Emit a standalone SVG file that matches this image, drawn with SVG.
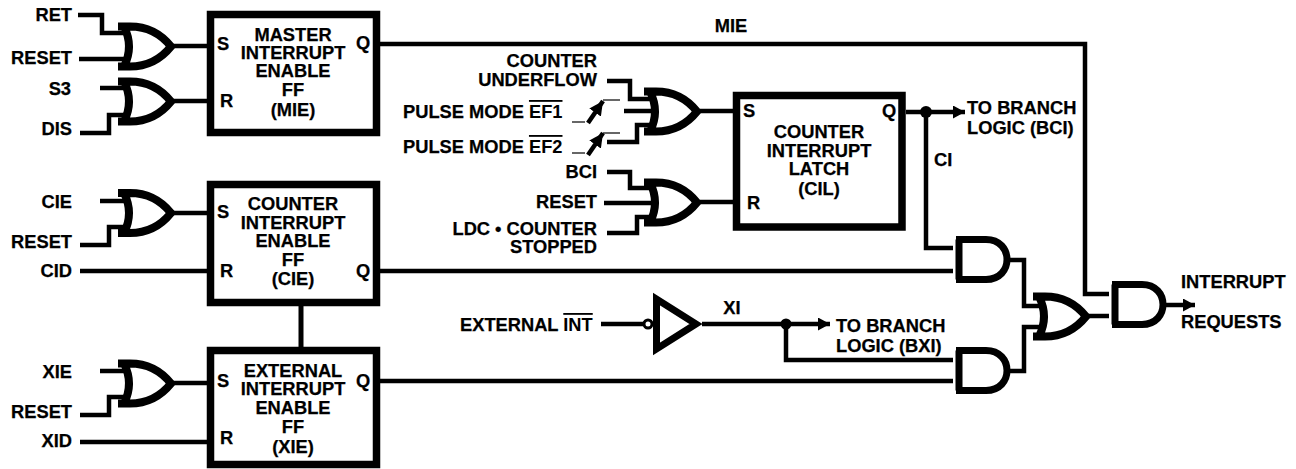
<svg xmlns="http://www.w3.org/2000/svg" width="1296" height="469" viewBox="0 0 1296 469">
<style>
text{font-family:"Liberation Sans",Arial,sans-serif;font-weight:bold;font-size:18.300px;fill:#000;stroke:#000;stroke-width:.25}
.e{text-anchor:end}.m{text-anchor:middle}
.box{fill:#fff;stroke:#000;stroke-width:7.500}
.gate{fill:none;stroke:#000;stroke-width:7}
.org{fill:none;stroke:#000;stroke-width:8}
.w{fill:none;stroke:#000;stroke-width:4.500}
.t{fill:none;stroke:#000;stroke-width:1.200}
.ol{text-decoration:overline;stroke-width:0}
</style>
<defs>
<g id="or"><path class="org" d="M0,.5H12C30,.5 43,8 53,20.500C43,33 30,40.500 12,40.500H0M6,.5Q16,20.500 6,40.500"/></g>
<g id="and"><path class="gate" d="M0,0H30C44,0 51,10 51,20C51,30 44,40 30,40H0M3,0V40"/></g>
<marker id="ah" markerUnits="userSpaceOnUse" markerWidth="12" markerHeight="13" refX="12" refY="6.500" orient="auto"><path d="M0,0L12,6.500L0,13Z"/></marker>
<marker id="sa" markerUnits="userSpaceOnUse" markerWidth="14" markerHeight="14" refX="14" refY="7" orient="auto"><path d="M0,0L14,7L0,14Z"/></marker>
</defs>
<g id="connectors">
<path class="w" d="M78,15H102V33H125"/><path class="w" d="M79,59H127"/><path class="w" d="M100,88H127"/><path class="w" d="M80,133H109V115H127"/>
<path class="w" d="M172,46H207"/><path class="w" d="M172,101H207"/>
<path class="w" d="M100,201H127"/><path class="w" d="M80,245H109V227H127"/><path class="w" d="M80,271H207"/><path class="w" d="M172,213H207"/>
<path class="w" d="M100,371H127"/><path class="w" d="M80,415H109V397H127"/><path class="w" d="M80,442H207"/><path class="w" d="M172,383H207"/>
<path d="M301,305V347" fill="none" stroke="#000" stroke-width="5"/>
<path class="w" d="M380,44H1085V294H1109"/><path class="w" d="M380,271H953"/><path class="w" d="M380,381H953"/>
<path class="w" d="M607,81H630V99H653"/><path class="t" d="M572,122H585"/><path class="w" d="M588,123L603,101" marker-end="url(#sa)"/><path class="t" d="M603,100H620"/><path class="w" d="M624,111H654"/>
<path class="t" d="M572,153H585"/><path class="w" d="M588,155L603,133" marker-end="url(#sa)"/><path class="t" d="M603,133H620"/><path class="w" d="M607,142H637V125H653"/>
<path class="w" d="M607,172H630V188H653"/><path class="w" d="M604,203H654"/><path class="w" d="M607,233H637V217H653"/>
<path class="w" d="M700,111H733"/><path class="w" d="M700,202H733"/>
<path class="w" d="M906,112H965" marker-end="url(#ah)"/><circle cx="926" cy="112" r="6"/>
<path class="w" d="M926,112V248H953"/>
<path class="w" d="M1010,260H1024V306H1042"/><path class="w" d="M1010,371H1024V327H1042"/><path class="w" d="M1088,316H1109"/>
<path class="w" d="M1166,305H1195" marker-end="url(#ah)"/>
<path class="w" d="M601,324H644"/>
<path class="w" d="M702,324H830" marker-end="url(#ah)"/><circle cx="786" cy="324" r="5.500"/><path class="w" d="M786,324V360H953"/>
<text class="m" x="731" y="32">MIE</text><text x="934" y="166">CI</text><text class="m" x="732" y="314">XI</text>
</g>
<g id="in-mie"><text class="e" x="72" y="21">RET</text><text class="e" x="72" y="64">RESET</text><text class="e" x="71" y="95">S3</text><text class="e" x="72" y="135">DIS</text></g>
<g id="in-cie"><text class="e" x="72" y="208">CIE</text><text class="e" x="72" y="248">RESET</text><text class="e" x="72" y="277">CID</text></g>
<g id="in-xie"><text class="e" x="72" y="378">XIE</text><text class="e" x="72" y="418">RESET</text><text class="e" x="72" y="447">XID</text></g>
<g id="or-ret"><use href="#or" x="118" y="26"/></g>
<g id="or-s3"><use href="#or" x="118" y="81"/></g>
<g id="or-cie"><use href="#or" x="118" y="192.500"/></g>
<g id="or-xie"><use href="#or" x="118" y="363"/></g>
<g id="or-pulse"><use href="#or" x="644" y="91"/></g>
<g id="or-bci"><use href="#or" x="644" y="182"/></g>
<g id="or-out"><use href="#or" x="1033" y="296"/></g>
<g id="and-ci"><use href="#and" x="956" y="239.500"/></g>
<g id="and-xi"><use href="#and" x="956" y="350.500"/></g>
<g id="and-out"><use href="#and" x="1112" y="284.500"/></g>
<g id="ff-mie"><rect class="box" x="210.500" y="14.500" width="166" height="118"/>
<text x="217" y="50">S</text><text x="220" y="107">R</text><text x="356" y="49">Q</text>
<text class="m" x="293" y="41">MASTER</text><text class="m" x="293" y="59">INTERRUPT</text><text class="m" x="293" y="77">ENABLE</text><text class="m" x="293" y="96">FF</text><text class="m" x="293" y="116">(MIE)</text></g>
<g id="ff-cie"><rect class="box" x="210.500" y="184.500" width="166" height="118"/>
<text x="217" y="218">S</text><text x="220" y="277">R</text><text x="356" y="277">Q</text>
<text class="m" x="293" y="210">COUNTER</text><text class="m" x="293" y="229">INTERRUPT</text><text class="m" x="293" y="247">ENABLE</text><text class="m" x="293" y="266">FF</text><text class="m" x="293" y="285">(CIE)</text></g>
<g id="ff-xie"><rect class="box" x="210.500" y="350.500" width="166" height="114"/>
<text x="217" y="387">S</text><text x="220" y="444">R</text><text x="356" y="387">Q</text>
<text class="m" x="293" y="377">EXTERNAL</text><text class="m" x="293" y="395">INTERRUPT</text><text class="m" x="293" y="414">ENABLE</text><text class="m" x="293" y="433">FF</text><text class="m" x="293" y="453">(XIE)</text></g>
<g id="latch-cil"><rect class="box" x="736.500" y="95.500" width="165.500" height="131.500"/>
<text x="743" y="117">S</text><text x="747" y="209">R</text><text x="882" y="117">Q</text>
<text class="m" x="819" y="138">COUNTER</text><text class="m" x="819" y="157">INTERRUPT</text><text class="m" x="819" y="175">LATCH</text><text class="m" x="819" y="195">(CIL)</text></g>
<g id="in-cil"><text class="e" x="597" y="67">COUNTER</text><text class="e" x="597" y="86">UNDERFLOW</text>
<text x="403" y="118">PULSE MODE <tspan class="ol">EF1</tspan></text><text x="403" y="153">PULSE MODE <tspan class="ol">EF2</tspan></text>
<text class="e" x="597" y="178">BCI</text><text class="e" x="597" y="208">RESET</text><text class="e" x="597" y="235">LDC • COUNTER</text><text class="e" x="597" y="253">STOPPED</text></g>
<g id="out-bci"><text x="967" y="114">TO BRANCH</text><text x="967" y="134">LOGIC (BCI)</text></g>
<g id="out-bxi"><text x="836" y="332">TO BRANCH</text><text x="836" y="352">LOGIC (BXI)</text></g>
<g id="out-int"><text x="1181" y="288">INTERRUPT</text><text x="1181" y="328">REQUESTS</text></g>
<g id="buf-ext"><text x="460" y="331">EXTERNAL <tspan class="ol">INT</tspan></text>
<circle cx="648" cy="324" r="4" fill="#fff" stroke="#000" stroke-width="3"/>
<polygon points="656.500,299 656.500,349 696,324" fill="#fff" stroke="#000" stroke-width="7"/></g>
</svg>
